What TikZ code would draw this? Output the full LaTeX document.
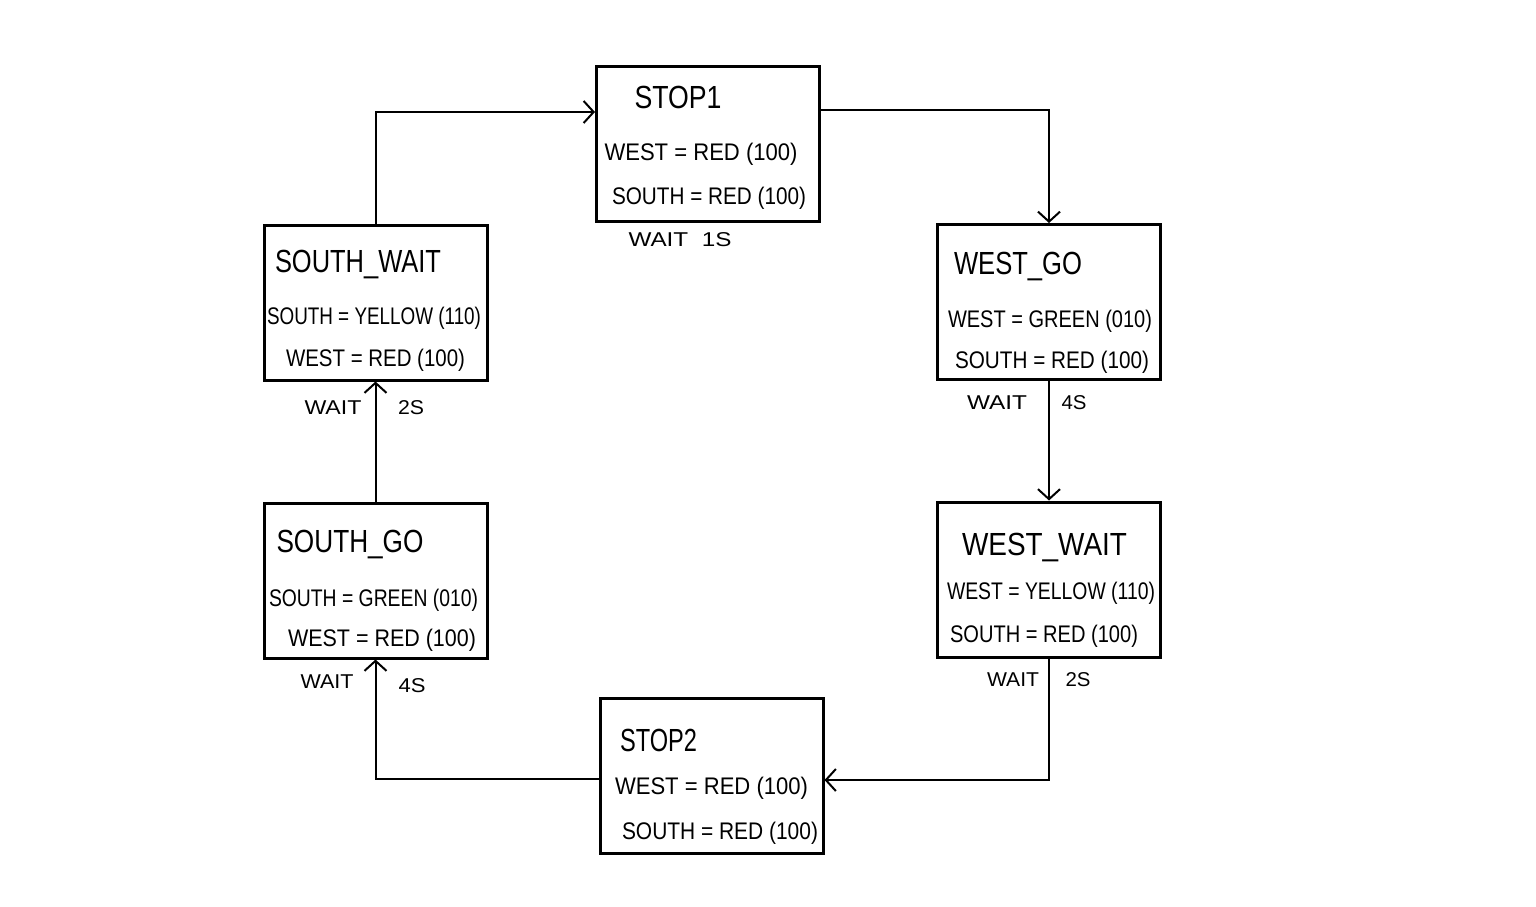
\documentclass[tikz,border=0pt]{standalone}
\usepackage{fontspec}
\usepackage{graphicx}
\setmainfont{Liberation Sans}
\usetikzlibrary{arrows.meta}
\newcommand\hw[2]{\resizebox{#1pt}{\height}{#2}}
\begin{document}
\begin{tikzpicture}[x=1pt,y=-1pt,
  box/.style={draw,line width=3pt,minimum width=223pt,minimum height=155pt,inner sep=0},
  ttl/.style={inner sep=0,font=\fontsize{32}{34}\selectfont},
  ln/.style={inner sep=0,font=\fontsize{24}{26}\selectfont},
  lab/.style={inner sep=0,font=\fontsize{20}{22}\selectfont},
  arr/.style={line width=2pt,-{Straight Barb[length=10pt,width=22pt]}}]
\useasboundingbox[fill=white] (0,0) rectangle (1536,906);
% boxes
\node[box] (stop1) at (708,143.5) {};
\node[box] (swait) at (375.5,302.5) {};
\node[box] (wgo) at (1049,302) {};
\node[box] (sgo) at (375.5,580.5) {};
\node[box] (wwait) at (1049,579.5) {};
\node[box] (stop2) at (711.5,775.5) {};
% STOP1
\node[ttl] (t1) at (678,97) {\hw{87}{STOP1}};
\node[ln] (t1a) at (701,154) {\hw{193}{WEST = RED (100)}};
\node[ln] (t1b) at (709,198) {\hw{194}{SOUTH = RED (100)}};
\node[lab] (l1) at (680,240) {\hw{103}{WAIT\ \ 1S}};
% SOUTH_WAIT
\node[ttl] (t2) at (358,264) {\hw{166}{SOUTH\_WAIT}};
\node[ln] (t2a) at (374,318) {\hw{214}{SOUTH = YELLOW (110)}};
\node[ln] (t2b) at (375.5,360) {\hw{179}{WEST = RED (100)}};
\node[lab] (l2a) at (333,408) {\hw{57}{WAIT}};
\node[lab] (l2b) at (411,408) {\hw{26}{2S}};
% WEST_GO
\node[ttl] (t3) at (1018,266) {\hw{128}{WEST\_GO}};
\node[ln] (t3a) at (1050,321) {\hw{204}{WEST = GREEN (010)}};
\node[ln] (t3b) at (1052,362) {\hw{194}{SOUTH = RED (100)}};
\node[lab] (l3a) at (997,403) {\hw{60}{WAIT}};
\node[lab] (l3b) at (1074,403) {\hw{25}{4S}};
% SOUTH_GO
\node[ttl] (t4) at (350,544) {\hw{147}{SOUTH\_GO}};
\node[ln] (t4a) at (373.5,600) {\hw{209}{SOUTH = GREEN (010)}};
\node[ln] (t4b) at (382,640) {\hw{188}{WEST = RED (100)}};
\node[lab] (l4a) at (327,682) {\hw{53}{WAIT}};
\node[lab] (l4b) at (412,686) {\hw{27}{4S}};
% WEST_WAIT
\node[ttl] (t5) at (1044.5,547) {\hw{165}{WEST\_WAIT}};
\node[ln] (t5a) at (1051,593) {\hw{208}{WEST = YELLOW (110)}};
\node[ln] (t5b) at (1044,636) {\hw{188}{SOUTH = RED (100)}};
\node[lab] (l5a) at (1013,680) {\hw{52}{WAIT}};
\node[lab] (l5b) at (1078,680) {\hw{25}{2S}};
% STOP2
\node[ttl] (t6) at (658.5,740) {\hw{77}{STOP2}};
\node[ln] (t6a) at (711.5,788) {\hw{193}{WEST = RED (100)}};
\node[ln] (t6b) at (720,833) {\hw{196}{SOUTH = RED (100)}};
% connectors
\draw[arr] (swait.north) |- ([yshift=31.5pt]stop1.west);
\draw[arr] ([yshift=33.5pt]stop1.east) -| (wgo.north);
\draw[arr] (wgo.south) -- (wwait.north);
\draw[arr] (wwait.south) |- ([yshift=-4.5pt]stop2.east);
\draw[arr] ([yshift=-3.5pt]stop2.west) -| (sgo.south);
\draw[arr] (sgo.north) -- (swait.south);
\end{tikzpicture}
\end{document}
